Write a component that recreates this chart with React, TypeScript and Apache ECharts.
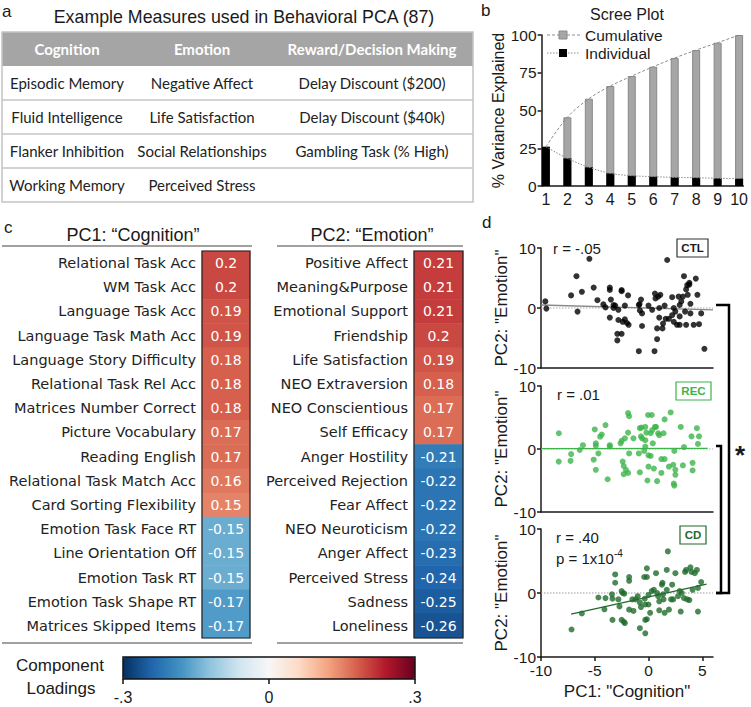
import React, { useEffect, useRef } from "react";
import * as echarts from "echarts";

// ---------- DATA ----------
const tableHeaders = ["Cognition", "Emotion", "Reward/Decision Making"];
const tableCol1 = ["Episodic Memory", "Fluid Intelligence", "Flanker Inhibition", "Working Memory"];
const tableCol2 = ["Negative Affect", "Life Satisfaction", "Social Relationships", "Perceived Stress"];
const tableCol3 = ["Delay Discount ($200)", "Delay Discount ($40k)", "Gambling Task (% High)", ""];

const screeComponents = [1, 2, 3, 4, 5, 6, 7, 8, 9, 10];
const screeCumulative = [26, 45.5, 57.8, 66.2, 72.8, 79, 84.8, 90, 94.9, 100];
const screeIndividual = [26, 18.3, 12.4, 8.4, 6.8, 6.2, 5.7, 5.5, 5.1, 4.9];
const screeYTicks = [0, 25, 50, 75, 100];

const pc1Labels = [
  "Relational Task Acc", "WM Task Acc", "Language Task Acc", "Language Task Math Acc",
  "Language Story Difficulty", "Relational Task Rel Acc", "Matrices Number Correct",
  "Picture Vocabulary", "Reading English", "Relational Task Match Acc",
  "Card Sorting Flexibility", "Emotion Task Face RT", "Line Orientation Off",
  "Emotion Task RT", "Emotion Task Shape RT", "Matrices Skipped Items",
];
const pc1Values = [0.2, 0.2, 0.19, 0.19, 0.18, 0.18, 0.18, 0.17, 0.17, 0.16, 0.15, -0.15, -0.15, -0.15, -0.17, -0.17];
const pc2Labels = [
  "Positive Affect", "Meaning&Purpose", "Emotional Support", "Friendship",
  "Life Satisfaction", "NEO Extraversion", "NEO Conscientious", "Self Efficacy",
  "Anger Hostility", "Perceived Rejection", "Fear Affect", "NEO Neuroticism",
  "Anger Affect", "Perceived Stress", "Sadness", "Loneliness",
];
const pc2Values = [0.21, 0.21, 0.21, 0.2, 0.19, 0.18, 0.17, 0.17, -0.21, -0.22, -0.22, -0.22, -0.23, -0.24, -0.25, -0.26];
const colorbarTicks = ["-.3", "0", ".3"];

const ctlPoints = [
  [-9.6, 1.1], [-9.5, -0.1], [-7.2, 2.1], [-6.6, -0.6], [-6.2, 2.7], [-6.7, 5.3], [-5.5, 8.2],
  [-5.1, 3.4], [-4.75, 1.3], [-4.2, 0.6], [-4.0, 0.1], [-3.6, 3.4], [-3.5, 1.4], [-3.6, -1.6],
  [-3.25, 0.5], [-3.1, 0.4], [-3.25, 0], [-2.8, -0.3], [-2.8, -2.0], [-2.5, 2.8], [-2.9, -4.3],
  [-2.5, -4.3], [-2.9, -5.4], [-2.4, -2.3], [-2.2, -1.9], [-2.2, 0.4], [-1.9, 2.1], [-2.0, -2.5],
  [-1.85, -2.8], [-0.9, -7.2], [-0.83, 0.65], [-0.7, 1.4], [-0.9, 0.5], [-0.6, -0.9], [-0.8, -0.4],
  [-0.6, -3.0], [0.0, 0.4], [0.34, -0.3], [0.56, -7.2], [0.6, 2.4], [0.65, 1.6], [0.8, -3.4],
  [0.8, -5.2], [0.9, 1.9], [1.1, 2.2], [1.0, 0.0], [1.0, -1.6], [1.3, -3.4], [1.35, -2.6],
  [1.5, 0.4], [1.6, -1.8], [1.9, -1.8], [1.74, 8.0], [2.2, 1.8], [2.2, -1.2], [2.35, 0.0],
  [2.5, -0.6], [2.35, -2.3], [2.65, -2.8], [2.8, 1.9], [2.9, 0.5], [2.9, -1.4], [3.05, 1.1],
  [3.2, 1.9], [3.4, -0.6], [3.5, -2.8], [2.9, -2.8], [3.5, 3.1], [3.8, 3.9], [3.65, 2.2],
  [3.9, -0.9], [3.9, 0.7], [4.2, -2.8], [4.55, 2.2], [4.7, -2.7], [4.9, -0.9], [5.2, -6.8],
  [3.3, 5.3], [4.4, 4.9], [3.8, 4.2], [3.6, 3.8], [-3.6, 3.0], [-2.5, 3.0],
];
const ctlFit = [[-10, 0.5], [6, -0.3]];

const recPoints = [
  [-8.34, 2.5], [-8.35, -2.0], [-7.2, -0.8], [-7.25, -1.9], [-6.4, -0.16], [-6.1, 0.6], [-5.0, 3.1],
  [-5.1, -1.7], [-4.9, 0.9], [-4.9, 0.5], [-4.9, -3.3], [-4.66, -0.7], [-4.5, 1.95], [-4.35, 2.3],
  [-4.0, 3.8], [-3.8, -4.8], [-3.6, 0.6], [-3.6, 0.4], [-2.6, 0.9], [-2.5, 1.3], [-2.4, -2.0],
  [-2.3, -2.7], [-2.3, -4.0], [-2.2, 1.7], [-2.1, -3.3], [-1.9, -3.8], [-1.9, 2.6], [-1.8, -0.7],
  [-1.4, 1.7], [-0.9, -0.7], [-0.8, 3.3], [-0.8, -3.7], [-0.7, 2.0], [-0.6, 1.7], [-0.4, -0.3],
  [-0.3, 0.4], [-0.3, 1.4], [-0.3, 3.5], [-0.2, 2.6], [-0.1, -5.0], [0.0, -2.8], [0.0, -1.0],
  [0.2, -1.1], [0.2, 2.5], [0.35, 3.0], [0.4, 0.9], [0.5, -3.1], [0.6, 3.5], [0.7, 3.5],
  [0.8, -5.1], [0.9, 2.5], [1.0, 2.2], [1.2, -3.8], [1.2, -1.6], [1.4, 2.5], [1.5, -1.6],
  [1.9, -2.8], [2.3, -2.5], [2.4, -0.3], [2.5, -3.3], [2.5, -4.1], [2.35, -5.5], [2.4, -5.8],
  [3.0, 3.5], [3.2, -2.6], [3.3, 0.3], [4.0, 2.0], [4.1, -2.2], [4.1, -3.4], [4.5, 3.3],
  [4.6, 0.8], [4.7, 2.0], [-1.9, 5.7], [-1.8, 5.2], [-0.04, 5.4], [0.3, 5.4], [1.5, 4.7],
  [2.06, 5.8], [-0.66, 3.4],
];
const recFit = [[-10, 0.05], [5.5, 0.1]];

const cdPoints = [
  [-7.16, -5.7], [-6.2, -3.2], [-4.66, -0.7], [-4.1, -2.55], [-4.0, -0.8], [-3.4, -0.2], [-3.35, -0.9],
  [-3.35, -4.2], [-3.1, 2.9], [-3.1, 1.6], [-2.8, -1.0], [-2.7, -2.1], [-2.5, 0.3], [-2.4, 0.0],
  [-2.5, -4.2], [-2.3, -4.5], [-2.2, -4.7], [-2.25, -0.1], [-1.8, 2.5], [-1.8, 1.9], [-1.8, -2.6],
  [-1.5, -1.0], [-1.4, -2.8], [-1.2, -1.0], [-1.0, -0.5], [-0.8, -1.5], [-0.7, -2.2], [-0.8, -5.5],
  [-0.4, 2.5], [-0.35, -0.9], [-0.3, -1.8], [-0.3, -4.2], [-0.15, -4.1], [-0.3, -6.3], [-0.15, 3.85],
  [-0.15, 2.5], [0.0, -0.3], [0.0, -1.8], [0.15, -3.1], [0.3, 0.3], [0.5, 0.5], [0.7, 3.1],
  [0.8, 0.0], [0.9, -0.5], [1.0, -1.3], [1.0, -2.7], [1.25, 1.3], [1.3, 1.6], [1.35, -0.2],
  [1.4, -1.0], [1.5, -3.1], [1.7, 3.6], [1.7, 0.5], [1.8, 6.5], [1.9, -2.6], [2.1, -1.0],
  [2.2, 1.3], [2.3, -1.0], [2.5, 3.1], [2.75, -0.5], [2.9, 0.3], [3.0, -2.9], [3.1, 0.0],
  [3.3, -0.8], [3.4, 3.3], [3.5, 3.6], [3.6, -1.0], [3.8, -1.1], [3.9, 4.0], [4.0, 3.3],
  [4.1, 0.5], [4.3, 3.1], [4.5, 3.6], [4.6, 0.8], [4.6, -2.9], [4.9, 1.7],
];
const cdFit = [[-7.2, -3.3], [5.4, 1.4]];
const zeroLine = [[-10, 0], [6, 0]];

const rdbu = ["#053061", "#2166ac", "#4393c3", "#92c5de", "#d1e5f0", "#f7f7f7", "#fddbc7", "#f4a582", "#d6604d", "#b2182b", "#67001f"];

// ---------- STYLE CONSTANTS ----------
const ARIAL = "Liberation Sans, Arial, sans-serif";
const CAL = "Lato, sans-serif";
const DV = "DejaVu Sans, sans-serif";
const INK = "#1a1a1a";
const REC_GREEN = "#3cb44a";
const CD_GREEN = "#1f6b2c";

function txt(text: string, x: number, y: number, size: number, opts: any = {}) {
  return {
    type: "text",
    x,
    y,
    z: 100,
    style: {
      text,
      fontSize: size,
      fontFamily: opts.family || ARIAL,
      fontWeight: opts.weight || "normal",
      fill: opts.fill || INK,
      textAlign: opts.align || "left",
      textVerticalAlign: "middle",
      rich: opts.rich,
    },
  };
}
function seg(x1: number, y1: number, x2: number, y2: number, stroke: string, lw: number, dash?: any) {
  return {
    type: "line",
    z: 100,
    shape: { x1, y1, x2, y2 },
    style: { stroke, lineWidth: lw, lineDash: dash },
  };
}

function buildTable() {
  const els: any[] = [];
  const left = 2, right = 473, top = 32, hh = 34, rh = 34;
  const cx = [67, 202, 372];
  els.push({ type: "rect", z: 90, shape: { x: left, y: top, width: right - left, height: hh }, style: { fill: "#a5a5a5" } });
  const bottom = top + hh + rh * tableCol1.length;
  els.push({ type: "rect", z: 91, shape: { x: left, y: top, width: right - left, height: bottom - top }, style: { fill: "none", stroke: "#c4c4c4", lineWidth: 1.5 } });
  tableHeaders.forEach((h, i) => els.push(txt(h, cx[i], top + hh / 2, 15, { family: CAL, weight: "bold", fill: "#ffffff", align: "center" })));
  const cols = [tableCol1, tableCol2, tableCol3];
  for (let r = 0; r < tableCol1.length; r++) {
    const y = top + hh + rh * r;
    if (r > 0) els.push(seg(left, y, right, y, "#c4c4c4", 1.5));
    cols.forEach((c, i) => {
      if (c[r]) els.push(txt(c[r], cx[i], y + rh / 2, 15, { family: CAL, fill: "#222", align: "center" }));
    });
  }
  return els;
}

export default function App() {
  const ref = useRef<HTMLDivElement>(null);
  useEffect(() => {
    if (!ref.current) return;
    const chart = echarts.init(ref.current, undefined, { renderer: "svg" });

    const scatterX = (gi: number, showLabels: boolean) => ({
      type: "value",
      gridIndex: gi,
      min: -10,
      max: 6,
      axisLine: { show: true, onZero: false, lineStyle: { color: INK, width: 1.5 } },
      axisTick: { show: showLabels, customValues: [-10, -5, 0, 5], length: 4, lineStyle: { color: INK, width: 1.5 } },
      axisLabel: { show: showLabels, customValues: [-10, -5, 0, 5], fontSize: 15.5, color: INK, fontFamily: ARIAL, margin: 5 },
      splitLine: { show: false },
      name: showLabels ? 'PC1: "Cognition"' : "",
      nameLocation: "middle",
      nameGap: 26,
      nameTextStyle: { fontSize: 17, color: INK, fontFamily: ARIAL },
    });
    const scatterY = (gi: number) => ({
      type: "value",
      gridIndex: gi,
      min: -10,
      max: 10,
      interval: 10,
      axisLine: { show: true, onZero: false, lineStyle: { color: INK, width: 1.5 } },
      axisTick: { show: true, length: 4, lineStyle: { color: INK, width: 1.5 } },
      axisLabel: { fontSize: 15.5, color: INK, fontFamily: ARIAL, margin: 5 },
      splitLine: { show: false },
      name: 'PC2: "Emotion"',
      nameLocation: "middle",
      nameGap: 24,
      nameTextStyle: { fontSize: 17, color: INK, fontFamily: ARIAL },
    });
    const heatY = (gi: number, labels: string[]) => ({
      type: "category",
      gridIndex: gi,
      data: labels,
      inverse: true,
      axisLine: { show: false },
      axisTick: { show: false },
      axisLabel: { fontSize: 14.5, color: "#222", fontFamily: DV, margin: 6 },
    });
    const heatSeries = (gi: number, values: number[]) => ({
      type: "heatmap",
      xAxisIndex: gi,
      yAxisIndex: gi,
      data: values.map((v, i) => [0, i, v]),
      label: { show: true, color: "#ffffff", fontFamily: DV, fontSize: 14 },
      emphasis: { disabled: true },
    });
    const lineS = (gi: number, data: number[][], color: string, width: number, type: any = "solid") => ({
      type: "line",
      xAxisIndex: gi,
      yAxisIndex: gi,
      data,
      showSymbol: false,
      symbol: "none",
      lineStyle: { color, width, type },
      z: 3,
      silent: true,
    });
    const scat = (gi: number, data: number[][], color: string) => ({
      type: "scatter",
      xAxisIndex: gi,
      yAxisIndex: gi,
      data,
      symbolSize: 6,
      itemStyle: { color },
      z: 4,
    });

    const cbLeft = 123, cbTop = 657, cbW = 292, cbH = 22;

    const graphic: any[] = [
      txt("a", 2, 11, 17),
      txt("Example Measures used in Behavioral PCA (87)", 244, 17, 17.8, { align: "center" }),
      ...buildTable(),
      txt("b", 481, 10, 17),
      txt("Scree Plot", 627, 14, 16, { align: "center" }),
      // scree legend
      seg(547, 35, 580, 35, "#8c8c8c", 1, [3, 2]),
      { type: "rect", z: 101, shape: { x: 559, y: 31, width: 8, height: 8 }, style: { fill: "#a6a6a6", stroke: "#8a8a8a", lineWidth: 1 } },
      txt("Cumulative", 585, 35, 15.5),
      seg(547, 53, 580, 53, "#8c8c8c", 1, [1.5, 1.5]),
      { type: "rect", z: 101, shape: { x: 559, y: 49, width: 8, height: 8 }, style: { fill: "#000" } },
      txt("Individual", 585, 53, 15.5),
      // panel c
      txt("c", 4, 227, 17),
      txt("PC1: \u201CCognition\u201D", 133, 235, 18, { align: "center" }),
      seg(2, 246, 252, 246, "#444", 1.2),
      txt("PC2: \u201CEmotion\u201D", 372, 235, 18, { align: "center" }),
      seg(277, 246, 463, 246, "#444", 1.2),
      { type: "rect", z: 100, shape: { x: 202, y: 251, width: 48, height: 387 }, style: { fill: "none", stroke: "#222", lineWidth: 1.2 } },
      { type: "rect", z: 100, shape: { x: 414, y: 251, width: 49, height: 387 }, style: { fill: "none", stroke: "#222", lineWidth: 1.2 } },
      seg(2, 643, 252, 643, "#444", 1.2),
      seg(277, 643, 463, 643, "#444", 1.2),
      // colorbar
      txt("Component", 60, 665, 17, { align: "center" }),
      txt("Loadings", 61, 688, 17, { align: "center" }),
      { type: "rect", z: 100, shape: { x: cbLeft, y: cbTop, width: cbW, height: cbH }, style: { fill: "none", stroke: "#111", lineWidth: 1.5 } },
      ...colorbarTicks.map((t, i) => seg(cbLeft + (cbW / 2) * i, cbTop + cbH, cbLeft + (cbW / 2) * i, cbTop + cbH + 5, "#111", 1.5)),
      ...colorbarTicks.map((t, i) => txt(t, cbLeft + (cbW / 2) * i, 697, 16, { align: "center" })),
      // panel d
      txt("d", 482, 222, 17),
      txt("r = -.05", 553, 248, 15),
      { type: "rect", z: 100, shape: { x: 677, y: 239, width: 31, height: 18 }, style: { fill: "#fff", stroke: "#333", lineWidth: 1.2 } },
      txt("CTL", 692.5, 248, 11.5, { align: "center", weight: "bold" }),
      txt("r = .01", 557, 394, 15),
      { type: "rect", z: 100, shape: { x: 676, y: 382, width: 35, height: 18 }, style: { fill: "#fff", stroke: REC_GREEN, lineWidth: 1.2 } },
      txt("REC", 693.5, 391, 11.5, { align: "center", weight: "bold", fill: REC_GREEN }),
      txt("r = .40", 556, 537, 15),
      {
        type: "text", x: 556, y: 558, z: 100,
        style: {
          text: "{a|p = 1x10}{s|-4}",
          fill: INK,
          textVerticalAlign: "middle",
          rich: {
            a: { fontSize: 15, fontFamily: ARIAL, fill: INK },
            s: { fontSize: 10, fontFamily: ARIAL, fill: INK, padding: [0, 0, 9, 0] },
          },
        },
      },
      { type: "rect", z: 100, shape: { x: 680, y: 526, width: 26, height: 18 }, style: { fill: "#fff", stroke: CD_GREEN, lineWidth: 1.2 } },
      txt("CD", 693, 535, 11.5, { align: "center", weight: "bold", fill: CD_GREEN }),
      { type: "polyline", z: 100, shape: { points: [[716, 305], [729, 305], [729, 593], [716, 593]] }, style: { stroke: "#000", lineWidth: 2.5, fill: "none" } },
      { type: "polyline", z: 100, shape: { points: [[716, 446], [721, 446], [721, 593], [716, 593]] }, style: { stroke: "#000", lineWidth: 2.5, fill: "none" } },
      txt("*", 740, 455, 26, { align: "center", weight: "bold" }),
    ];

    const option: any = {
      animation: false,
      backgroundColor: "#ffffff",
      textStyle: { fontFamily: ARIAL },
      grid: [
        { left: 541.6, top: 35, width: 204.8, height: 151 },
        { left: 202, top: 251, width: 48, height: 387 },
        { left: 414, top: 251, width: 49, height: 387 },
        { left: 541, top: 248, width: 172, height: 120 },
        { left: 541, top: 386, width: 172, height: 126 },
        { left: 541, top: 529, width: 172, height: 128 },
      ],
      xAxis: [
        {
          type: "value", gridIndex: 0, min: 0.8, max: 10.2, minInterval: 1, splitNumber: 10,
          axisLine: { lineStyle: { color: INK, width: 1.5 } },
          axisTick: { show: false },
          axisLabel: { fontSize: 16, color: INK, fontFamily: ARIAL, margin: 5, showMinLabel: false, showMaxLabel: false,
            formatter: (v: number) => (Number.isInteger(v) && screeComponents.includes(v) ? String(v) : "") },
          splitLine: { show: false },
        },
        { type: "category", gridIndex: 1, data: ["PC1"], show: false },
        { type: "category", gridIndex: 2, data: ["PC2"], show: false },
        scatterX(3, false),
        scatterX(4, false),
        scatterX(5, true),
      ],
      yAxis: [
        {
          type: "value", gridIndex: 0, min: screeYTicks[0], max: screeYTicks[screeYTicks.length - 1], interval: 25,
          axisLine: { show: true, lineStyle: { color: INK, width: 1.5 } },
          axisTick: { show: true, length: 4, lineStyle: { color: INK, width: 1.5 } },
          axisLabel: { fontSize: 15.5, color: INK, fontFamily: ARIAL, margin: 5 },
          splitLine: { show: false },
          name: "% Variance Explained", nameLocation: "middle", nameGap: 30,
          nameTextStyle: { fontSize: 16, color: INK, fontFamily: ARIAL },
        },
        heatY(1, pc1Labels),
        heatY(2, pc2Labels),
        scatterY(3),
        scatterY(4),
        scatterY(5),
      ],
      visualMap: {
        type: "continuous",
        min: -0.3,
        max: 0.3,
        seriesIndex: [4, 5],
        inRange: { color: rdbu },
        orient: "horizontal",
        left: cbLeft,
        top: cbTop,
        itemWidth: cbH,
        itemHeight: cbW,
        padding: 0,
        calculable: false,
        hoverLink: false,
        text: null,
        showLabel: false,
      },
      series: [
        {
          type: "bar", xAxisIndex: 0, yAxisIndex: 0, data: screeComponents.map((c, i) => [c, screeCumulative[i]]),
          barWidth: 8, barGap: "-100%", itemStyle: { color: "#a6a6a6", borderColor: "#888", borderWidth: 1 }, z: 2,
        },
        {
          type: "bar", xAxisIndex: 0, yAxisIndex: 0, data: screeComponents.map((c, i) => [c, screeIndividual[i]]),
          barWidth: 8, barGap: "-100%", itemStyle: { color: "#000" }, z: 2,
        },
        { ...lineS(0, screeComponents.map((c, i) => [c, screeCumulative[i]]), "#8c8c8c", 1, [3, 2]), smooth: 0.35 },
        { ...lineS(0, screeComponents.map((c, i) => [c, screeIndividual[i]]), "#8c8c8c", 1, [1.5, 1.5]), smooth: 0.35 },
        heatSeries(1, pc1Values),
        heatSeries(2, pc2Values),
        lineS(3, zeroLine, "#aaaaaa", 1, [1.5, 1.5]),
        lineS(3, ctlFit, "#888888", 1.3),
        scat(3, ctlPoints, "#000000"),
        lineS(4, zeroLine, "#aaaaaa", 1, [1.5, 1.5]),
        lineS(4, recFit, REC_GREEN, 1.3),
        scat(4, recPoints, REC_GREEN),
        lineS(5, zeroLine, "#999999", 1, [1.5, 1.5]),
        lineS(5, cdFit, CD_GREEN, 1.3),
        scat(5, cdPoints, CD_GREEN),
      ],
      graphic,
    };
    chart.setOption(option);
    return () => chart.dispose();
  }, []);
  return <div ref={ref} style={{ position: "absolute", left: 0, top: 0, width: 751, height: 707, background: "#fff" }} />;
}
